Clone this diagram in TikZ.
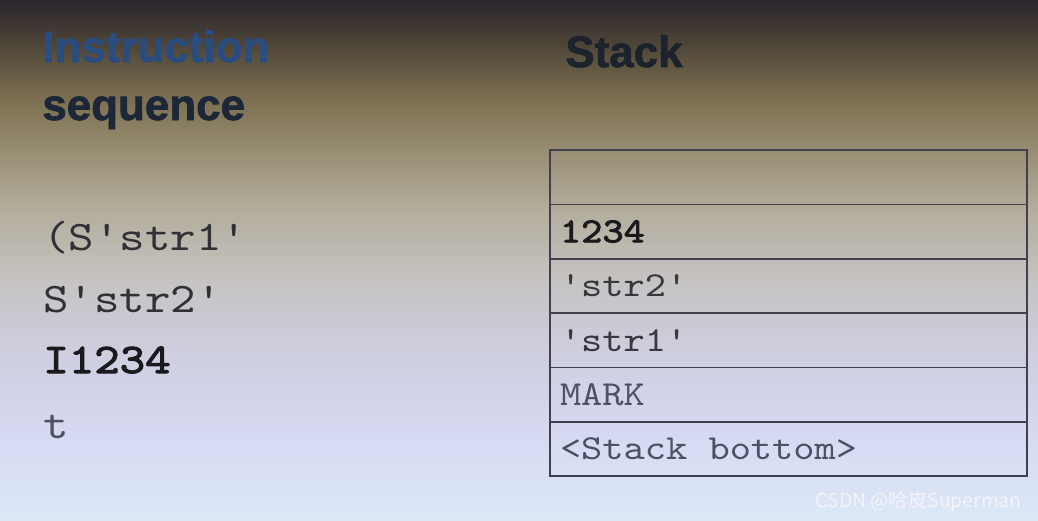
\documentclass[tikz,border=0pt]{standalone}
\usepackage{fontspec}
\setmainfont{Liberation Sans}
\newfontfamily\headfont{Liberation Sans}[BoldFeatures={FakeBold=1.6}]
\newfontfamily\codefont{lmmono10-regular.otf}[FakeStretch=1.15]
\newfontfamily\codebold{lmmono10-regular.otf}[FakeStretch=1.15,FakeBold=2.5]
\newfontfamily\cjk{Noto Sans CJK SC}
\usetikzlibrary{positioning}
% one character cell of the stretched mono font
\newcommand\monogap{\hspace{0.604em}}
% slide background, top to bottom
\definecolor{bgA}{HTML}{2B2530}
\definecolor{bgB}{HTML}{4A4236}
\definecolor{bgC}{HTML}{7A6D4F}
\definecolor{bgD}{HTML}{978D72}
\definecolor{bgE}{HTML}{B3AD9C}
\definecolor{bgF}{HTML}{C6C3C2}
\definecolor{bgG}{HTML}{CFCFE2}
\definecolor{bgH}{HTML}{D7DAF3}
\definecolor{bgI}{HTML}{DCE8F8}
\definecolor{headblue}{HTML}{2A4C7E}
\definecolor{headnavy}{HTML}{1C2838}
\definecolor{headink}{HTML}{1D232C}
\definecolor{codeink}{HTML}{303036}
\definecolor{boldink}{HTML}{1A1A1E}
\definecolor{cellink}{HTML}{38383F}
\definecolor{lowink}{HTML}{4E5164}
\definecolor{rule}{HTML}{40404E}
\definecolor{mark}{HTML}{F4F4F8}
\tikzset{
  band/.style 2 args={top color=#1,bottom color=#2,draw=none},
  heading/.style={anchor=base west,inner sep=0pt,font=\headfont\fontsize{25}{30}\selectfont\bfseries},
  codeline/.style={anchor=base west,inner sep=0pt,font=\codefont\fontsize{24}{28}\selectfont,text=codeink},
  stackcell/.style={draw=rule,line width=0.9pt,outer sep=0pt,minimum width=95.4mm,minimum height=10.87mm,
    inner xsep=2mm,text width=91.4mm,align=left,font=\codefont\fontsize{20}{24}\selectfont,text=cellink}
}

\begin{document}
\begin{tikzpicture}[x=0.2mm,y=-0.2mm]
  \useasboundingbox (0,0) rectangle (1038,520);
  % background
  \fill[band={bgA}{bgB}] (0,0) rectangle (1038,40);
  \fill[band={bgB}{bgC}] (0,40) rectangle (1038,95);
  \fill[band={bgC}{bgD}] (0,95) rectangle (1038,150);
  \fill[band={bgD}{bgE}] (0,150) rectangle (1038,210);
  \fill[band={bgE}{bgF}] (0,210) rectangle (1038,280);
  \fill[band={bgF}{bgG}] (0,280) rectangle (1038,360);
  \fill[band={bgG}{bgH}] (0,360) rectangle (1038,440);
  \fill[band={bgH}{bgI}] (0,440) rectangle (1038,520);

  % column titles
  \node[heading,text=headblue] (instr) at (42,62) {Instruction};
  \node[heading,text=headnavy] (seq) at (42,120) {sequence};
  \node[heading,text=headink] (stack) at (565,67) {Stack};

  % instruction list
  \node[codeline] (op1) at (43,250) {(S'str1'};
  \node[codeline] (op2) at (43,312) {S'str2'};
  \node[codeline,font=\codebold\fontsize{24}{28}\selectfont,text=boldink] (op3) at (43,373) {I1234};
  \node[codeline,text=lowink] (op4) at (43,438) {t};

  % stack, top cell empty
  \node[stackcell,anchor=north west] (top) at (550,150) {};
  \node[stackcell,below=0pt of top,font=\codebold\fontsize{20}{24}\selectfont,text=boldink] (int) {1234};
  \node[stackcell,below=0pt of int] (s2) {'str2'};
  \node[stackcell,below=0pt of s2] (s1) {'str1'};
  \node[stackcell,below=0pt of s1,text=lowink] (mk) {MARK};
  \node[stackcell,below=0pt of mk,text=lowink] (bottom) {<Stack\monogap bottom>};

  \node[anchor=base east,inner sep=0pt,font=\cjk\fontsize{11}{13}\selectfont,text=mark] (credit) at (1022,507) {CSDN @哈皮Superman};
\end{tikzpicture}
\end{document}
